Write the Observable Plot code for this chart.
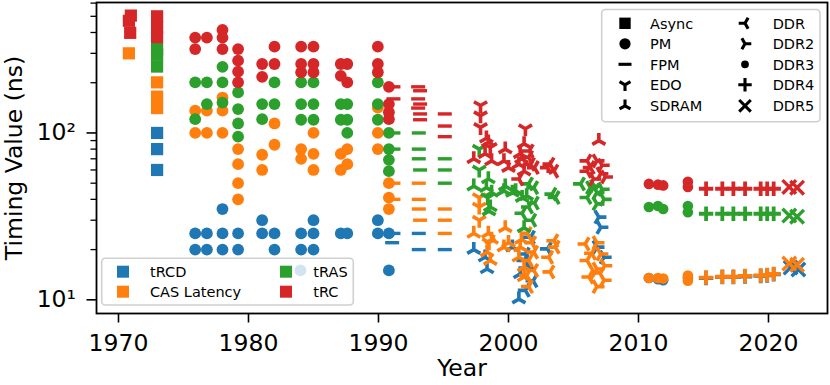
<!DOCTYPE html>
<html><head><meta charset="utf-8">
<script src="https://cdn.jsdelivr.net/npm/d3@7"></script>
<script src="https://cdn.jsdelivr.net/npm/@observablehq/plot@0.6"></script>
<style>body{margin:0;background:#fff;} svg{display:block}</style>
</head><body><div id="chart"></div>
<script>
// ---- categories / labels ----
const metricCodes = ["tRCD", "CAS", "tRAS", "tRC"];
const metricLabels = ["tRCD", "CAS Latency", "tRAS", "tRC"];
const metricColors = ["#1f77b4", "#ff7f0e", "#2ca02c", "#d62728"];
const typeNames = ["Async", "PM", "FPM", "EDO", "SDRAM", "DDR", "DDR2", "DDR3", "DDR4", "DDR5"];
const xTicks = [1970, 1980, 1990, 2000, 2010, 2020];
const yMajorTicks = [10, 100];
const yMinorTicks = [20, 30, 40, 50, 60, 70, 80, 90, 200, 300, 400, 500, 600];

// ---- data: [year, metric, value in ns] ----
const asyncData = [
  [1970.95,"tRC",505],[1970.8,"tRC",470],[1970.9,"tRC",398],[1970.8,"CAS",300],
  [1972.97,"tRC",500],[1972.97,"tRC",430],[1972.97,"tRC",375],
  [1972.97,"tRAS",318],[1972.97,"tRAS",294],[1972.97,"tRAS",250],
  [1972.97,"CAS",201],[1972.97,"CAS",165],[1972.97,"CAS",141],
  [1972.97,"tRCD",100],[1972.97,"tRCD",80],[1972.97,"tRCD",60]
];
const pmData = [
  [1975.9,"tRC",373],[1975.9,"tRC",318],[1975.9,"tRAS",201],[1975.9,"tRAS",121],[1975.9,"CAS",136],[1975.9,"CAS",100],[1975.9,"tRCD",25],[1975.9,"tRCD",20],
  [1976.8,"tRC",373],[1976.8,"tRAS",201],[1976.8,"tRAS",149],[1976.8,"CAS",136],[1976.8,"CAS",100],[1976.8,"tRCD",25],[1976.8,"tRCD",20],
  [1978.0,"tRC",414],[1978.0,"tRC",373],[1978.0,"tRC",318],[1978.0,"tRAS",249],[1978.0,"tRAS",201],[1978.0,"tRAS",152],[1978.0,"CAS",163],[1978.0,"CAS",136],[1978.0,"CAS",100],[1978.0,"tRCD",35],[1978.0,"tRCD",25],[1978.0,"tRCD",20],
  [1979.2,"tRC",318],[1979.2,"tRC",271],[1979.2,"tRC",233],[1979.2,"tRC",201],[1979.2,"tRAS",175],[1979.2,"tRAS",139],[1979.2,"tRAS",114],[1979.2,"tRAS",95],[1979.2,"CAS",80],[1979.2,"CAS",65],[1979.2,"CAS",50],[1979.2,"CAS",40],[1979.2,"tRCD",25],[1979.2,"tRCD",20],
  [1981.05,"tRC",259],[1981.05,"tRC",217],[1981.05,"tRAS",149],[1981.05,"tRAS",121],[1981.05,"CAS",74],[1981.05,"CAS",60],[1981.05,"tRCD",30],[1981.05,"tRCD",25],
  [1982.0,"tRC",329],[1982.0,"tRC",259],[1982.0,"tRAS",201],[1982.0,"tRAS",149],[1982.0,"CAS",114],[1982.0,"CAS",85],[1982.0,"tRCD",25],[1982.0,"tRCD",20],
  [1984.05,"tRC",329],[1984.05,"tRC",259],[1984.05,"tRC",231],[1984.05,"tRAS",201],[1984.05,"tRAS",149],[1984.05,"tRAS",120],[1984.05,"CAS",80],[1984.05,"CAS",70],[1984.05,"tRCD",25],[1984.05,"tRCD",20],[1984.0,"tRCD",15],
  [1985.0,"tRC",329],[1985.0,"tRC",259],[1985.0,"tRC",231],[1985.0,"tRAS",201],[1985.0,"tRAS",149],[1985.0,"tRAS",120],[1985.0,"CAS",100],[1985.0,"CAS",75],[1985.0,"CAS",60],[1985.0,"tRCD",30],[1985.0,"tRCD",25],[1985.0,"tRCD",20],
  [1987.1,"tRC",259],[1987.1,"tRC",220],[1987.1,"tRAS",149],[1987.1,"tRAS",120],[1987.1,"CAS",75],[1987.1,"CAS",60],[1987.1,"tRCD",25],
  [1987.6,"tRC",259],[1987.6,"tRC",201],[1987.6,"tRAS",149],[1987.6,"tRAS",120],[1987.6,"tRAS",100],[1987.6,"CAS",80],[1987.6,"CAS",65],[1987.6,"tRCD",25],
  [1989.95,"tRC",329],[1989.95,"tRC",259],[1989.95,"tRC",231],[1989.95,"tRAS",201],[1989.95,"tRAS",149],[1989.95,"tRAS",120],[1989.95,"CAS",142],[1989.95,"CAS",100],[1989.95,"CAS",80],[1989.95,"tRCD",30],[1989.95,"tRCD",25],
  [1990.8,"tRC",189],[1990.8,"tRC",149],[1990.8,"tRC",133],[1990.8,"tRC",121],[1990.8,"tRAS",100],[1990.8,"tRAS",80],[1990.8,"tRAS",69],[1990.8,"tRAS",59],[1990.8,"CAS",50],[1990.8,"CAS",41],[1990.8,"CAS",35],[1990.8,"tRCD",25],[1990.8,"tRCD",15]
];
const fpmData = [
  [1991.15,"tRC",189],[1991.15,"tRC",160],[1991.15,"tRAS",100],[1991.15,"tRAS",80],[1991.15,"CAS",50],[1991.15,"CAS",40],[1991.15,"tRCD",25],[1991.05,"tRCD",22],
  [1993.05,"tRC",189],[1993.2,"tRC",179],[1993.05,"tRC",160],[1993.2,"tRC",149],[1993.05,"tRC",141],[1993.2,"tRC",130],[1993.2,"tRC",120],
  [1993.1,"tRAS",100],[1993.1,"tRAS",80],[1993.1,"tRAS",70],[1993.2,"tRAS",60],
  [1993.1,"CAS",50],[1993.1,"CAS",40],[1993.1,"CAS",35],[1993.2,"CAS",30],
  [1993.1,"tRCD",25],[1993.1,"tRCD",20],
  [1995.1,"tRC",130],[1995.1,"tRC",110],[1995.1,"tRC",95],[1995.1,"tRAS",70],[1995.1,"tRAS",60],[1995.1,"tRAS",50],[1995.1,"CAS",35],[1995.1,"CAS",30],[1995.1,"CAS",25],[1995.1,"tRCD",20]
];
const edoData = [
  [1997.85,"tRC",146],[1997.85,"tRC",127],[1997.85,"tRC",108],
  [1997.75,"tRAS",80],[1997.75,"tRAS",60],
  [1997.75,"CAS",41],[1997.75,"CAS",36],[1997.75,"CAS",30],
  [1998.6,"tRC",82],[1998.4,"tRAS",41],[1998.5,"CAS",22],
  [2001.3,"tRC",106]
];
const sdramData = [
  [1997.33,"tRC",70],[1997.33,"tRAS",48],[1997.33,"CAS",25],[1997.33,"tRCD",20],
  [1998.3,"tRC",93],[1998.2,"tRC",75],[1998.7,"tRC",68],[1998.45,"tRC",88],
  [1998.45,"tRAS",53],[1998.3,"tRAS",47],[1998.6,"tRAS",36],[1998.5,"tRAS",34],[1998.7,"tRAS",44],
  [1998.45,"CAS",25],[1998.35,"CAS",19.3],[1998.6,"CAS",17.2],[1998.7,"CAS",23],
  [1998.2,"tRCD",18],[1998.35,"tRCD",15.3],
  [1999.75,"tRC",80],[1999.65,"tRC",68],[2000.0,"tRC",62],
  [1999.75,"tRAS",48],[1999.65,"tRAS",45],[2000.3,"tRAS",44],
  [1999.75,"CAS",27],[1999.65,"CAS",20.7],[2000.0,"CAS",22],
  [2000.3,"tRCD",20.7],
  [2001.2,"tRC",86],[2000.9,"tRC",75],[2000.8,"tRC",65],[2001.2,"tRC",59],[2001.0,"tRC",70],
  [2000.55,"tRAS",45],[2001.05,"tRAS",41],[2001.2,"tRAS",27],[2001.4,"tRAS",42],
  [2000.9,"CAS",20.7],[2000.8,"CAS",18],[2001.2,"CAS",15.7],[2001.2,"CAS",13.7],[2001.0,"CAS",23],
  [2000.9,"tRCD",14.3],[2000.8,"tRCD",10.1],[2001.5,"tRCD",16],
  [2006.95,"tRC",90]
];
const ddrData = [
  [2001.55,"tRC",71.5],[2001.7,"tRC",65],[2000.8,"tRC",53],[2001.6,"tRC",78],[2002.0,"tRC",62],
  [2001.55,"tRAS",49.5],[2001.95,"tRAS",47],[2001.55,"tRAS",36],[2001.05,"tRAS",33],[2001.8,"tRAS",30],[2002.0,"tRAS",38],
  [2001.45,"CAS",25],[2001.95,"CAS",19.3],[2001.55,"CAS",17.2],[2001.95,"CAS",15],[2001.55,"CAS",12],[2001.8,"CAS",22],[2001.4,"CAS",14],
  [2001.7,"tRCD",23.7],[2001.3,"tRCD",18.8],[2001.2,"tRCD",17.2],[2001.3,"tRCD",11.4],[2001.9,"tRCD",13],
  [2003.0,"tRC",62],[2003.2,"tRC",65],[2003.5,"tRC",59],
  [2003.35,"tRAS",43],[2003.6,"tRAS",41],
  [2003.5,"CAS",22.6],[2003.6,"CAS",20.7],[2003.1,"CAS",18],[2003.2,"CAS",14.7],
  [2003.0,"tRCD",20.2],
  [2006.05,"tRC",68],[2006.05,"tRC",59],[2006.3,"tRC",62],
  [2005.55,"tRAS",49.5],[2006.05,"tRAS",41],
  [2005.9,"CAS",21.6],[2006.05,"CAS",17.2],[2006.2,"CAS",13.7],[2006.4,"CAS",19]
];
const ddr2Data = [
  [2006.8,"tRC",68],[2007.1,"tRC",57],[2006.55,"tRC",53],[2007.45,"tRC",54.5],[2007.2,"tRC",64],
  [2006.3,"tRAS",47],[2006.8,"tRAS",44],[2007.35,"tRAS",40],[2006.8,"tRAS",37.6],[2006.6,"tRAS",48],[2007.2,"tRAS",46],
  [2006.95,"tRCD",31.3],[2007.1,"tRCD",27.2],[2006.8,"tRCD",20.7],[2007.35,"tRCD",18],
  [2006.8,"CAS",22],[2007.1,"CAS",18.8],[2006.8,"CAS",15.3],[2007.35,"CAS",13.1],[2006.8,"CAS",12],[2007.4,"CAS",16],[2006.6,"CAS",14.5]
];
const ddr3Data = [
  [2010.8,"tRC",49.5],[2011.5,"tRC",49],[2011.9,"tRC",48.5],[2013.8,"tRC",51],[2013.8,"tRC",47.5],
  [2010.8,"tRAS",36],[2011.5,"tRAS",36.5],[2011.9,"tRAS",35],[2013.8,"tRAS",36.5],[2013.8,"tRAS",33.5],
  [2010.8,"tRCD",13.5],[2011.5,"tRCD",13.3],[2011.9,"tRCD",13.1],[2013.8,"tRCD",13.5],
  [2010.8,"CAS",13.5],[2011.5,"CAS",13.5],[2011.9,"CAS",13.4],[2013.8,"CAS",14],[2013.8,"CAS",13]
];
const ddr4Data = [
  [2015.2,"tRC",46.3],[2016.45,"tRC",46.3],[2017.3,"tRC",46.3],[2018.2,"tRC",46.3],[2019.4,"tRC",46.3],[2019.9,"tRC",46.3],[2020.4,"tRC",46.3],
  [2015.2,"tRAS",32.8],[2016.45,"tRAS",32.8],[2017.3,"tRAS",32.8],[2018.2,"tRAS",32.8],[2019.4,"tRAS",32.8],[2019.9,"tRAS",32.8],[2020.4,"tRAS",32.8],
  [2015.2,"tRCD",13.5],[2016.45,"tRCD",13.7],[2017.3,"tRCD",13.7],[2018.2,"tRCD",13.8],[2019.4,"tRCD",13.9],[2019.9,"tRCD",14],[2020.4,"tRCD",14.2],
  [2015.2,"CAS",13.6],[2016.45,"CAS",13.75],[2017.3,"CAS",13.75],[2018.2,"CAS",13.9],[2019.4,"CAS",14],[2019.9,"CAS",14.1],[2020.4,"CAS",14.3]
];
const ddr5Data = [
  [2021.6,"tRC",47.5],[2022.2,"tRC",47],[2021.6,"tRAS",32],[2022.2,"tRAS",31.5],
  [2021.7,"tRCD",15.6],[2022.3,"tRCD",15.2],[2021.6,"CAS",16.5],[2022.2,"CAS",16.2]
];

// ---- marker shapes (matplotlib-like) ----
function sym(fn) { return { draw(c, size) { fn(c, Math.sqrt(size / Math.PI)); } }; }
const S = {
  square: sym((c, r) => { c.rect(-r, -r, 2 * r, 2 * r); }),
  circle: sym((c, r) => { c.moveTo(r, 0); c.arc(0, 0, r, 0, 2 * Math.PI); c.closePath(); }),
  hline: sym((c, r) => { c.moveTo(-r, 0); c.lineTo(r, 0); }),
  triDown: sym((c, r) => { c.moveTo(0, 0); c.lineTo(0, r); c.moveTo(0, 0); c.lineTo(-0.866 * r, -0.5 * r); c.moveTo(0, 0); c.lineTo(0.866 * r, -0.5 * r); }),
  triUp: sym((c, r) => { c.moveTo(0, 0); c.lineTo(0, -r); c.moveTo(0, 0); c.lineTo(-0.866 * r, 0.5 * r); c.moveTo(0, 0); c.lineTo(0.866 * r, 0.5 * r); }),
  triLeft: sym((c, r) => { c.moveTo(0, 0); c.lineTo(-r, 0); c.moveTo(0, 0); c.lineTo(0.5 * r, -0.866 * r); c.moveTo(0, 0); c.lineTo(0.5 * r, 0.866 * r); }),
  triRight: sym((c, r) => { c.moveTo(0, 0); c.lineTo(r, 0); c.moveTo(0, 0); c.lineTo(-0.5 * r, -0.866 * r); c.moveTo(0, 0); c.lineTo(-0.5 * r, 0.866 * r); }),
  plus: sym((c, r) => { c.moveTo(-r, 0); c.lineTo(r, 0); c.moveTo(0, -r); c.lineTo(0, r); }),
  cross: sym((c, r) => { c.moveTo(-r, -r); c.lineTo(r, r); c.moveTo(-r, r); c.lineTo(r, -r); })
};
const typeStyle = {
  Async: { data: asyncData, shape: S.square, fill: true, r: 6.1, lr: 5.7 },
  PM:    { data: pmData, shape: S.circle, fill: true, r: 5.9, lr: 5.6 },
  FPM:   { data: fpmData, shape: S.hline, fill: false, r: 7, sw: 3.4, lr: 6.5 },
  EDO:   { data: edoData, shape: S.triDown, fill: false, r: 7.6, sw: 3.6, lr: 6.3 },
  SDRAM: { data: sdramData, shape: S.triUp, fill: false, r: 7.6, sw: 3.6, lr: 6.3 },
  DDR:   { data: ddrData, shape: S.triLeft, fill: false, r: 7.6, sw: 3.6, lr: 6.3 },
  DDR2:  { data: ddr2Data, shape: S.triRight, fill: false, r: 7.6, sw: 3.6, lr: 6.3 },
  DDR3:  { data: ddr3Data, shape: S.circle, fill: true, r: 5.3, lr: 3.9 },
  DDR4:  { data: ddr4Data, shape: S.plus, fill: false, r: 7.2, sw: 3.8, lr: 6.7 },
  DDR5:  { data: ddr5Data, shape: S.cross, fill: false, r: 6.8, sw: 3.4, lr: 5.8 }
};

const marks = [];
for (const m of metricCodes) {
  for (const t of typeNames) {
    const st = typeStyle[t];
    const rows = st.data.filter(d => d[1] === m).map(d => ({ year: d[0], metric: d[1], value: d[2] }));
    if (!rows.length) continue;
    marks.push(Plot.dot(rows, {
      x: "year", y: "value", symbol: st.shape, r: st.r,
      fill: st.fill ? "metric" : "none",
      stroke: st.fill ? "none" : "metric",
      strokeWidth: st.fill ? 0 : st.sw
    }));
  }
}

const chart = Plot.plot({
  width: 830, height: 385,
  marginLeft: 96, marginRight: 3, marginTop: 2, marginBottom: 72,
  style: { fontFamily: "'DejaVu Sans', sans-serif", background: "white", color: "black", overflow: "visible" },
  x: { domain: [1968.308, 2024.54] },
  y: { type: "log", domain: [8.28, 605] },
  color: { type: "ordinal", domain: metricCodes, range: metricColors },
  marks: [
    ...marks,
    Plot.axisX({ ticks: xTicks, tickFormat: d => String(d), tickSize: 9.5, tickPadding: 11, fontSize: 23.5, label: null, strokeWidth: 1.6 }),
    Plot.axisY({ ticks: yMajorTicks, tickFormat: d => d === 10 ? "10\u00B9" : "10\u00B2", tickSize: 9.5, tickPadding: 11, fontSize: 23.5, label: null, strokeWidth: 1.6 }),
    Plot.axisY({ ticks: yMinorTicks, tickFormat: () => "", tickSize: 5.5, label: null, strokeWidth: 1.3 }),
    Plot.text(["Year"], { frameAnchor: "bottom", dy: 62, fontSize: 23.5, fill: "black" }),
    Plot.text(["Timing Value (ns)"], { frameAnchor: "left", textAnchor: "middle", dx: -82.5, rotate: -90, fontSize: 23.5, fill: "black" }),
    Plot.frame({ stroke: "black", strokeWidth: 1.8 })
  ]
});
document.getElementById("chart").appendChild(chart);

// ---- legends (matplotlib-style boxes) ----
const svg = d3.select(chart);
function box(x, y, w, h) {
  svg.append("rect").attr("x", x).attr("y", y).attr("width", w).attr("height", h)
    .attr("rx", 3.5).attr("fill", "white").attr("fill-opacity", 0.8)
    .attr("stroke", "#d0d0d0").attr("stroke-width", 1.6);
}
const fs = 14.5;
box(101.7, 258.3, 251.6, 46.7);
const leg1 = [[0, 123, 271.7, 150], [1, 123, 291.7, 150], [2, 286, 271.7, 313.3], [3, 286, 291.7, 313.3]];
for (const [i, mx, my, tx] of leg1) {
  svg.append("rect").attr("x", mx - 6).attr("y", my - 6).attr("width", 12).attr("height", 12).attr("fill", metricColors[i]);
  svg.append("text").attr("x", tx).attr("y", my + 5.3).attr("font-size", fs).attr("text-anchor", "start")
    .attr("font-family", "'DejaVu Sans', sans-serif").attr("fill", "black").text(metricLabels[i]);
}
box(601.7, 9.5, 218.3, 112.2);
const rowsY = [23.3, 43.8, 64.3, 84.8, 105.8];
typeNames.forEach((t, i) => {
  const col = Math.floor(i / 5), row = i % 5;
  const mx = col ? 745 : 625, tx = col ? 772.7 : 650, my = rowsY[row];
  const st = typeStyle[t];
  const p = d3.symbol(st.shape, Math.PI * st.lr * st.lr)();
  svg.append("path").attr("d", p).attr("transform", `translate(${mx},${my})`)
    .attr("fill", st.fill ? "black" : "none").attr("stroke", st.fill ? "none" : "black")
    .attr("stroke-width", st.fill ? 0 : 3.1);
  svg.append("text").attr("x", tx).attr("y", my + 5.3).attr("font-size", fs).attr("text-anchor", "start")
    .attr("font-family", "'DejaVu Sans', sans-serif").attr("fill", "black").text(t);
});
</script>
</body></html>
